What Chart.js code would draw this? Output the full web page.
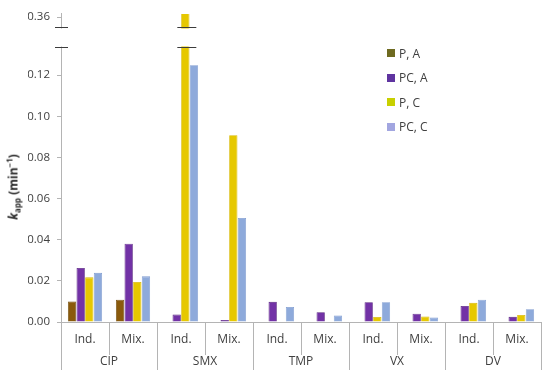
<!DOCTYPE html>
<html>
<head>
<meta charset="utf-8">
<script src="https://cdn.jsdelivr.net/npm/chart.js@4.4.1/dist/chart.umd.min.js"></script>
<style>
  html, body { margin: 0; padding: 0; background: #fff; }
  #wrap { position: relative; width: 550px; height: 378px; font-family: 'Open Sans', sans-serif; color: #404040; }
  #y-title {
    position: absolute; left: 13px; top: 187px;
    transform: translate(-50%, -50%) rotate(-90deg);
    white-space: nowrap; font-size: 12px; font-weight: bold; color: #262626;
  }
  #y-title sub, #y-title sup { font-size: 8px; line-height: 0; }
  #legend { position: absolute; left: 387px; top: 41px; font-size: 12px; color: #404040; }
  #legend div { height: 24.5px; display: flex; align-items: center; }
  #legend span.box { width: 8px; height: 8px; margin-right: 4px; display: inline-block; }
</style>
</head>
<body>
<div id="wrap">
  <canvas id="chart" width="550" height="378"></canvas>
  <div id="y-title"><i>k</i><sub>app</sub> (min<sup>−1</sup>)</div>
  <div id="legend"></div>
</div>
<script>
// ── Data ──────────────────────────────────────────────────────
const GROUPS     = ['CIP', 'SMX', 'TMP', 'VX', 'DV'];
const CATEGORIES = ['Ind.', 'Mix.', 'Ind.', 'Mix.', 'Ind.', 'Mix.', 'Ind.', 'Mix.', 'Ind.', 'Mix.'];

const P_A  = [0.0100, 0.0108, 0,      0,      0,      0,      0,      0,      0,      0];
const PC_A = [0.0263, 0.0381, 0.0036, 0.0010, 0.0098, 0.0048, 0.0096, 0.0040, 0.0078, 0.0025];
const P_C  = [0.0217, 0.0195, 0.36,   0.0908, 0,      0,      0.0024, 0.0027, 0.0093, 0.0034];
const PC_C = [0.0239, 0.0222, 0.1248, 0.0506, 0.0073, 0.0032, 0.0096, 0.0022, 0.0108, 0.0062];

const SERIES_NAMES  = ['P, A', 'PC, A', 'P, C', 'PC, C'];
const Y_TICKS       = [0, 0.02, 0.04, 0.06, 0.08, 0.10, 0.12];
const TOP_TICK_TEXT = '0.36';

// ── Styles ────────────────────────────────────────────────────
const BAR_COLORS    = ['#8a5a0c', '#7232a6', '#e6c800', '#8eaadb'];
const BAR_BORDERS   = ['#6a4406', '#56207e', '#d8b800', '#7f9bcf'];
const LEGEND_COLORS = ['#6e6a20', '#5f34a0', '#c8d000', '#a2a6e0'];

const Y_MAX     = 0.1498;   // value at top of the plot area
const TOP_TICK  = 0.1482;   // where the broken-axis label sits
const BREAK_HI  = 0.1433;
const BREAK_LO  = 0.1336;
const AXIS_GREY = '#b4b4b4';

Chart.defaults.font.family = "'Open Sans', sans-serif";
Chart.defaults.color = '#404040';

// ── Axis break decoration ─────────────────────────────────────
const axisBreak = {
  id: 'axisBreak',
  afterDatasetsDraw(chart) {
    const { ctx, chartArea, scales: { y } } = chart;
    const yHi = Math.round(y.getPixelForValue(BREAK_HI)) + 0.5;
    const yLo = Math.round(y.getPixelForValue(BREAK_LO)) + 0.5;
    ctx.save();
    ctx.fillStyle = '#fff';
    ctx.fillRect(chartArea.left - 10, yHi + 1, chartArea.width + 10, yLo - yHi - 2);

    const bar = chart.getDatasetMeta(2).data[2];
    const segs = [
      [chartArea.left - 6, chartArea.left + 7],
      [bar.x - 8, bar.x + 11],
    ];
    ctx.strokeStyle = '#3c3c3c';
    ctx.lineWidth = 1;
    ctx.beginPath();
    for (const [a, b] of segs) {
      ctx.moveTo(a, yHi); ctx.lineTo(b, yHi);
      ctx.moveTo(a, yLo); ctx.lineTo(b, yLo);
    }
    ctx.stroke();
    ctx.restore();
  },
};

// ── Chart ─────────────────────────────────────────────────────
const seriesValues = [P_A, PC_A, P_C, PC_C];

new Chart(document.getElementById('chart'), {
  type: 'bar',
  data: {
    labels: CATEGORIES,
    datasets: seriesValues.map((data, i) => ({
      label: SERIES_NAMES[i],
      data,
      backgroundColor: BAR_COLORS[i],
      borderColor: BAR_BORDERS[i],
      borderWidth: 0.8,
      categoryPercentage: 0.72,
      barPercentage: 0.96,
    })),
  },
  options: {
    responsive: false,
    animation: false,
    devicePixelRatio: 1,
    layout: { padding: { left: 28, right: 9, top: 10, bottom: 0 } },
    plugins: { legend: { display: false }, tooltip: { enabled: false } },
    scales: {
      x: {
        position: 'bottom',
        offset: true,
        grid: { offset: true, drawOnChartArea: false, tickLength: 33, color: AXIS_GREY },
        border: { color: AXIS_GREY },
        ticks: { padding: -23, font: { size: 12 }, color: '#404040', maxRotation: 0, autoSkip: false },
        afterFit: (s) => { s.height = 26; },
      },
      x2: {
        type: 'category',
        position: 'bottom',
        labels: GROUPS,
        offset: true,
        grid: { offset: true, drawOnChartArea: false, tickLength: 22, color: AXIS_GREY },
        border: { display: false },
        ticks: { padding: -16, font: { size: 12 }, color: '#404040', maxRotation: 0, autoSkip: false },
        afterFit: (s) => { s.height = 30; },
      },
      y: {
        min: 0,
        max: Y_MAX,
        grid: { drawOnChartArea: false, tickLength: 4, color: AXIS_GREY },
        border: { color: AXIS_GREY },
        ticks: {
          padding: 7,
          font: { size: 11.5 },
          color: '#404040',
          callback: (v) => (v > 0.13 ? TOP_TICK_TEXT : v.toFixed(2)),
        },
        afterBuildTicks: (axis) => {
          axis.ticks = [...Y_TICKS, TOP_TICK].map((value) => ({ value }));
        },
        afterFit: (s) => { s.width = 33; },
      },
    },
  },
  plugins: [axisBreak],
});

// ── Legend ────────────────────────────────────────────────────
const legend = document.getElementById('legend');
SERIES_NAMES.forEach((name, i) => {
  const row = document.createElement('div');
  row.innerHTML = `<span class="box" style="background:${LEGEND_COLORS[i]}"></span>${name}`;
  legend.appendChild(row);
});
</script>
</body>
</html>
